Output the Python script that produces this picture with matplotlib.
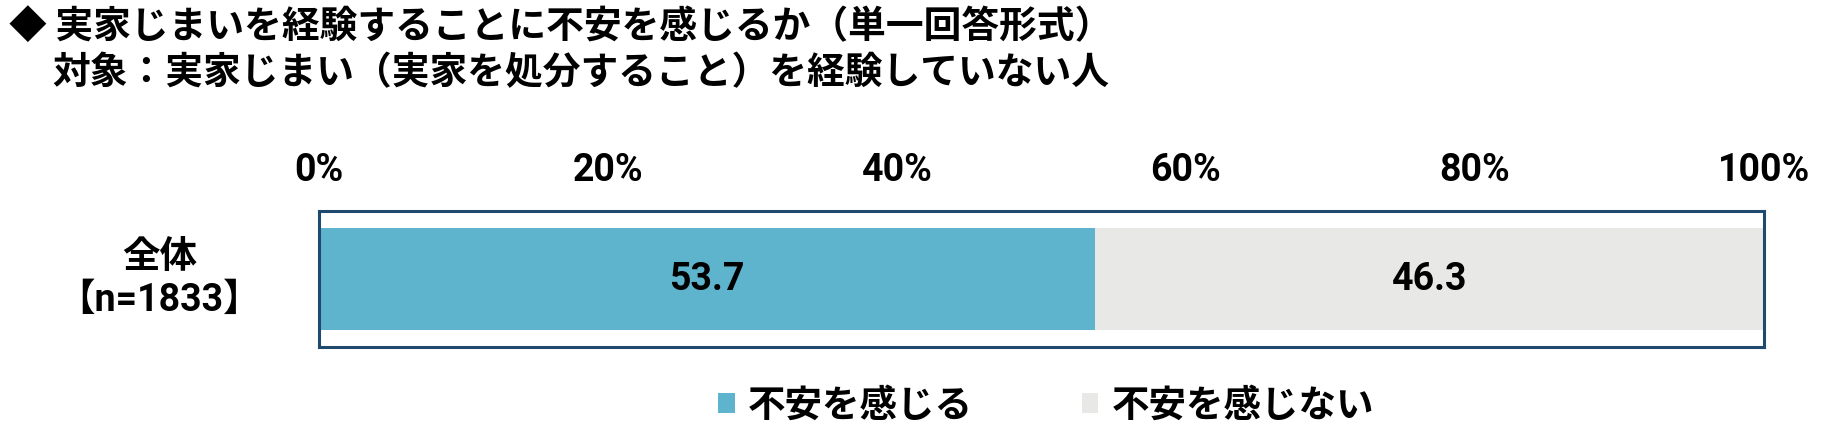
import matplotlib
matplotlib.use("Agg")
import matplotlib.pyplot as plt

# ---- data ----
categories = ["全体\n【n=1833】"]
series_names = ["不安を感じる", "不安を感じない"]
anxious = [53.7]
not_anxious = [46.3]
tick_values = [0, 20, 40, 60, 80, 100]
tick_labels = ["0%", "20%", "40%", "60%", "80%", "100%"]
title_line1 = "◆ 実家じまいを経験することに不安を感じるか（単一回答形式）"
title_line2 = "対象：実家じまい（実家を処分すること）を経験していない人"

colors = ["#5EB3CD", "#E8E8E6"]
frame_color = "#1F4A6E"
CJK = ["Noto Sans CJK JP", "DejaVu Sans"]
NUM = ["Roboto", "Noto Sans CJK JP", "DejaVu Sans"]

plt.rcParams["font.family"] = CJK

fig = plt.figure(figsize=(18.4, 4.45), dpi=100)
ax = fig.add_axes([319 / 1840, 1 - 347 / 445, 1445 / 1840, 136 / 445])

y = list(range(len(categories)))
left = [0] * len(categories)
bars = []
for name, vals, col in zip(series_names, [anxious, not_anxious], colors):
    b = ax.barh(y, vals, left=left, height=0.75, color=col, label=name)
    bars.append(b)
    for yi, l, v in zip(y, left, vals):
        ax.text(l + v / 2, yi, f"{v:.1f}", ha="center", va="center",
                fontsize=27, fontweight="bold", family=NUM, color="black")
    left = [l + v for l, v in zip(left, vals)]

ax.set_xlim(0, 100)
ax.set_ylim(-0.5, 0.5)
ax.invert_yaxis()

ax.xaxis.tick_top()
ax.set_xticks(tick_values)
ax.set_xticklabels(tick_labels, fontsize=27, fontweight="bold", family=NUM)
ax.tick_params(axis="x", length=0, pad=15.5)

ax.set_yticks(y)
ax.set_yticklabels(categories, fontsize=27, fontweight="bold", family=NUM,
                   linespacing=1.2)
ax.tick_params(axis="y", length=0, pad=115)
for lab in ax.get_yticklabels():
    lab.set_ha("center")
    lab.set_va("center")
    lab.set_multialignment("center")

for s in ax.spines.values():
    s.set_color(frame_color)
    s.set_linewidth(2.2)

fig.text(9 / 1840, 1 - 26 / 445, title_line1, fontsize=27.2, fontweight="bold",
         ha="left", va="center")
fig.text(52 / 1840, 1 - 73 / 445, title_line2, fontsize=27.2, fontweight="bold",
         ha="left", va="center")

leg = fig.legend(handles=bars, labels=series_names, loc="center",
                 bbox_to_anchor=(1046 / 1840, 1 - 405 / 445), ncol=2,
                 frameon=False, prop={"family": CJK, "weight": "bold", "size": 27},
                 handlelength=0.45, handleheight=0.45, handletextpad=0.35,
                 columnspacing=2.9)

fig.savefig("out.png", dpi=100)
